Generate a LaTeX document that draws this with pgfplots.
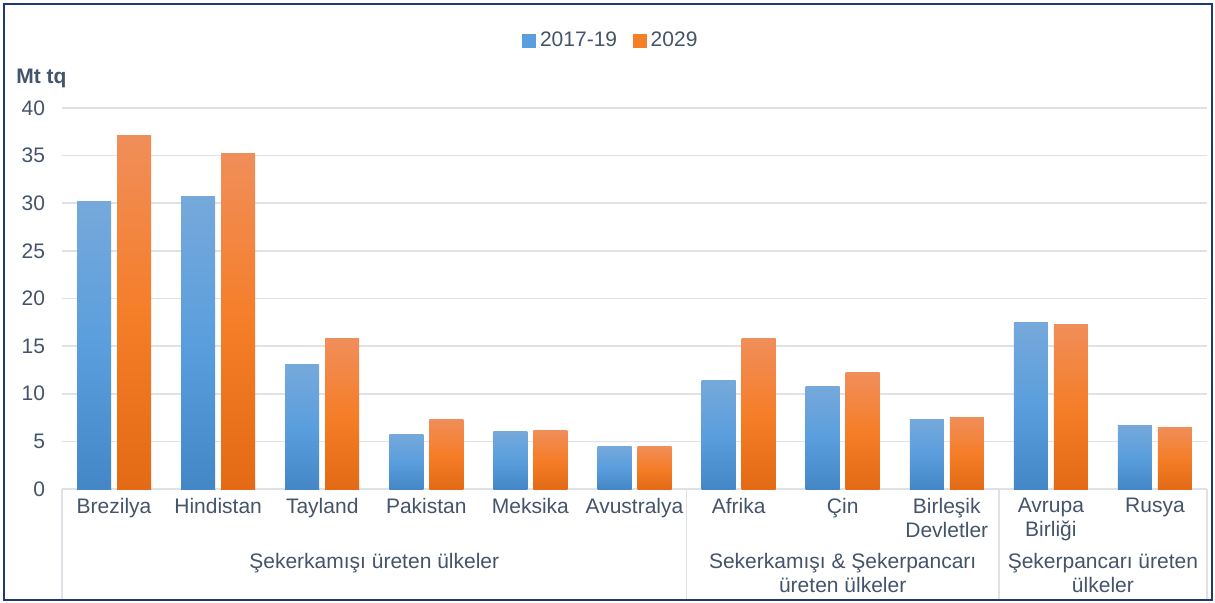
\documentclass[border=0pt]{standalone}
\usepackage{fontspec}
\setmainfont{Liberation Sans}
\usepackage{pgfplots}
\pgfplotsset{compat=1.18}
\definecolor{txt}{HTML}{44546A}
\definecolor{navy}{HTML}{1F3A6E}
\definecolor{gridc}{HTML}{DEE2E7}
\definecolor{bT}{HTML}{76A9DB}
\definecolor{bM}{HTML}{5A9EDD}
\definecolor{bB}{HTML}{4387C7}
\definecolor{oT}{HTML}{F08E5A}
\definecolor{oM}{HTML}{F57E29}
\definecolor{oB}{HTML}{E46A15}
\newcommand{\lf}{\fontsize{10.5}{12}\selectfont}
\pgfplotsset{
  bluebar/.style={ybar, bar shift=-10pt, draw=none, top color=bT, bottom color=bB, middle color=bM, forget plot},
  orangebar/.style={ybar, bar shift=10pt, draw=none, top color=oT, bottom color=oB, middle color=oM, forget plot},
}
\newcommand{\B}[2]{\addplot[bluebar] coordinates {(#1,#2)};}
\newcommand{\Or}[2]{\addplot[orangebar] coordinates {(#1,#2)};}
\begin{document}
\begin{tikzpicture}[x=1pt,y=1pt]
\fill[white] (0,0) rectangle (607.5,301);
\draw[navy, line width=1.2pt] (2,1) rectangle (606,299);
\begin{axis}[
  at={(31pt,56.5pt)}, anchor=south west, scale only axis,
  width=572.5pt, height=190.5pt,
  xmin=-0.5, xmax=10.5, ymin=0, ymax=40,
  ytick={0,5,...,40}, xtick={0,...,10},
  xticklabels={Brezilya,Hindistan,Tayland,Pakistan,Meksika,Avustralya,Afrika,Çin,{Birleşik\\Devletler},{Avrupa\\Birliği},Rusya},
  axis x line*=bottom, axis y line*=left,
  x axis line style={draw=gridc, line width=0.8pt, -},
  y axis line style={draw=none},
  major tick length=0pt,
  ymajorgrids, grid style={draw=gridc, line width=0.8pt},
  bar width=17pt,
  clip=false,
  /pgf/number format/assume math mode=true,
  tick label style={font=\lf, text=txt},
  xticklabel style={align=center, anchor=north, yshift=-1pt},
  yticklabel style={xshift=-5pt},
  legend style={at={(0.4803,1.176)}, anchor=center, draw=none, fill=none, font=\lf, text=txt,
    legend columns=2, /tikz/every even column/.append style={column sep=6pt}},
]
% 2017-19
\B{0}{30.16} \B{1}{30.76} \B{2}{13.02} \B{3}{5.77} \B{4}{6.09} \B{5}{4.51}
\B{6}{11.34} \B{7}{10.81} \B{8}{7.35} \B{9}{17.53} \B{10}{6.72}
% 2029
\Or{0}{37.10} \Or{1}{35.27} \Or{2}{15.75} \Or{3}{7.35} \Or{4}{6.19} \Or{5}{4.51}
\Or{6}{15.85} \Or{7}{12.18} \Or{8}{7.56} \Or{9}{17.32} \Or{10}{6.51}
\addlegendimage{legend image code/.code={\fill[bM] (0pt,-3.2pt) rectangle (6.4pt,3.2pt);}}
\addlegendentry{2017-19}
\addlegendimage{legend image code/.code={\fill[oM] (0pt,-3.2pt) rectangle (6.4pt,3.2pt);}}
\addlegendentry{2029}
\pgfplotsinvokeforeach{-0.5,5.5,8.5,10.5}{
  \draw[gridc, line width=0.8pt] (axis cs:#1,0) -- ++(0pt,-55pt);
}
\node[anchor=north, align=center, font=\lf, text=txt, inner sep=0pt] at (axis cs:2.5,0) [yshift=-32pt] {Şekerkamışı üreten ülkeler};
\node[anchor=north, align=center, font=\lf, text=txt, inner sep=0pt] at (axis cs:7,0) [yshift=-32pt] {Sekerkamışı \& Şekerpancarı\\üreten ülkeler};
\node[anchor=north, align=center, font=\lf, text=txt, inner sep=0pt] at (axis cs:9.5,0) [yshift=-32pt] {Şekerpancarı üreten\\ülkeler};
\end{axis}
\node[anchor=west, font=\lf\bfseries, text=txt, inner sep=0pt] at (8pt,262pt) {Mt tq};
\end{tikzpicture}
\end{document}
